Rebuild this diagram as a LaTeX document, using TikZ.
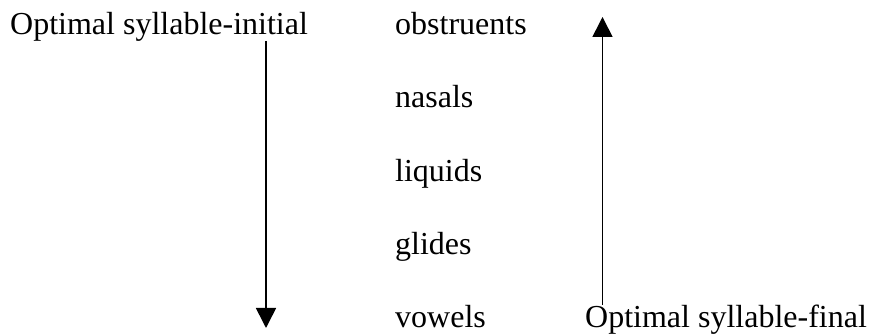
\documentclass[tikz,border=0pt]{standalone}
\usepackage{fontspec}
\setmainfont{Liberation Serif}
\usetikzlibrary{arrows.meta}
\begin{document}
\begin{tikzpicture}[x=1pt,y=1pt,
  wordtext/.style={anchor=base west,inner sep=0pt,font=\fontsize{32}{36}\selectfont},
  rankarrow/.style={-{Triangle[width=20pt,length=20pt]},line width=1.6pt}]
\useasboundingbox (0,0) rectangle (873,336);
% side captions
\node[wordtext] (initial) at (10,301) {Optimal syllable-initial};
\node[wordtext] (final) at (585,8) {Optimal syllable-final};
% sonority classes, top to bottom
\node[wordtext] (obs) at (395,301) {obstruents};
\node[wordtext] (nas) at (395,228) {nasals};
\node[wordtext] (liq) at (395,154) {liquids};
\node[wordtext] (gli) at (395,81) {glides};
\node[wordtext] (vow) at (395,8) {vowels};
% arrow ends
\coordinate (initTop) at (266,295);
\coordinate (initBot) at (266,8);
\coordinate (finBot) at (602.5,31);
\coordinate (finTop) at (602.5,319);
\draw[rankarrow] (initTop) -- (initBot);
\draw[rankarrow] (finBot) -- (finTop);
\end{tikzpicture}
\end{document}
